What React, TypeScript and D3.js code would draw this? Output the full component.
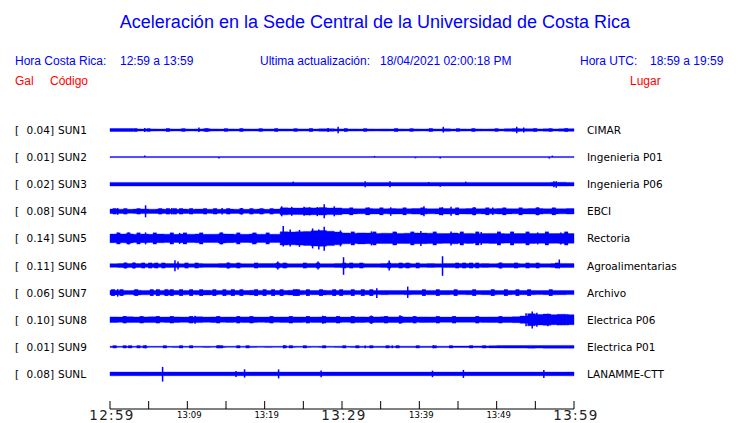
import React from "react";
import * as d3 from "d3";

const titleText = "Aceleración en la Sede Central de la Universidad de Costa Rica";
const localRange = "12:59 a 13:59";
const utcRange = "18:59 a 19:59";
const lastUpdate = "18/04/2021 02:00:18 PM";

const stations = ["SUN1", "SUN2", "SUN3", "SUN4", "SUN5", "SUN6", "SUN7", "SUN8", "SUN9", "SUNL"];
const galValues = ["0.04", "0.01", "0.02", "0.08", "0.14", "0.11", "0.06", "0.10", "0.01", "0.08"];
const places = ["CIMAR", "Ingenieria P01", "Ingenieria P06", "EBCI", "Rectoria", "Agroalimentarias", "Archivo", "Electrica P06", "Electrica P01", "LANAMME-CTT"];

// minute ticks (0 = 12:59, 60 = 13:59)
const tickMinutes = [0, 5, 10, 15, 20, 25, 30, 35, 40, 45, 50, 55, 60];
const majorLabels = [[0, "12:59"], [30, "13:29"], [60, "13:59"]];
const minorLabels = [[10, "13:09"], [20, "13:19"], [40, "13:39"], [50, "13:49"]];

// per-minute envelope half-amplitudes (relative units)
const envSUN1 = [1.5,1.5,1.5,1.1,1.0,1.1,1.0,1.1,1.0,1.1,1.0,1.1,1.2,1.1,1.0,1.1,1.0,1.1,1.0,1.1,1.1,1.0,1.1,1.0,1.1,1.1,1.0,1.2,1.3,1.1,1.0,1.1,1.0,1.1,1.0,1.1,1.0,1.1,1.0,1.1,1.0,1.1,1.0,1.2,1.0,1.1,1.0,1.1,1.0,1.1,1.0,1.3,1.4,1.3,1.2,1.1,1.2,1.1,1.2,1.3];
const envSUN2 = [0.5,0.5,0.5,0.5,0.5,0.5,0.5,0.5,0.5,0.5,0.5,0.5,0.5,0.5,0.5,0.5,0.5,0.5,0.5,0.5,0.5,0.5,0.5,0.5,0.5,0.5,0.5,0.5,0.5,0.5,0.5,0.5,0.5,0.5,0.5,0.5,0.5,0.5,0.5,0.5,0.5,0.5,0.5,0.5,0.5,0.5,0.5,0.5,0.5,0.5,0.5,0.5,0.5,0.5,0.5,0.5,0.5,0.5,0.5,0.5];
const envSUN3 = [1.8,1.8,1.8,1.8,1.8,1.8,1.8,1.8,1.8,1.8,1.8,1.8,1.8,1.8,1.8,1.8,1.8,1.8,1.8,1.8,1.8,1.8,1.8,1.8,1.8,1.8,1.8,1.8,1.8,1.8,1.8,1.8,1.8,1.8,1.8,1.8,1.8,1.8,1.8,1.8,1.8,1.8,1.8,1.8,1.8,1.8,1.8,1.8,1.8,1.8,1.8,1.8,1.8,1.8,1.8,1.8,1.8,1.9,1.9,1.8];
const envSUN4 = [2.2,2.1,2.0,2.2,2.3,2.1,2.2,2.1,2.0,2.2,2.1,2.2,2.0,2.1,2.0,2.2,2.1,2.0,2.1,2.2,2.0,2.2,3.5,3.3,3.2,3.6,3.4,3.7,3.3,3.4,2.7,2.6,2.5,2.7,2.6,2.5,2.7,2.6,2.5,2.8,2.7,2.5,2.6,2.7,2.5,2.6,2.8,2.5,2.6,2.5,2.7,2.6,2.5,2.6,2.7,2.8,2.5,2.6,2.5,2.7];
const envSUN5 = [4.3,4.4,4.5,4.2,4.3,4.1,4.3,4.2,4.1,4.3,4.2,4.4,4.1,4.2,4.5,4.3,4.2,4.1,4.3,4.2,4.1,4.2,6.6,6.4,6.7,7.0,7.6,7.8,7.2,6.4,5.4,5.2,5.5,5.3,5.0,5.2,5.1,5.0,5.2,5.4,5.3,5.2,5.0,4.9,5.4,4.8,5.0,4.7,4.8,5.0,4.8,4.7,4.9,4.8,5.0,4.8,4.9,4.8,5.0,4.8];
const envSUN6 = [1.8,2.0,1.9,1.9,1.8,1.9,1.8,1.9,1.9,1.8,1.8,1.9,1.8,1.8,1.9,2.0,1.9,1.8,1.8,1.9,1.9,2.0,1.9,1.8,1.8,1.9,1.9,1.8,1.8,1.9,2.0,2.1,1.9,1.8,1.8,1.9,2.1,1.9,1.9,1.8,1.8,1.9,1.8,1.9,1.9,1.9,2.0,1.8,1.9,1.8,1.9,2.0,1.9,1.8,1.9,1.8,1.8,1.9,2.1,1.9];
const envSUN7 = [2.3,2.2,2.0,2.3,2.2,2.0,2.2,2.3,2.1,2.2,2.0,2.1,2.3,2.1,2.0,2.2,2.1,2.1,2.3,2.2,2.0,2.1,2.1,2.3,2.2,2.0,2.1,2.3,2.2,2.1,2.2,2.0,2.0,2.1,2.0,2.1,2.0,2.0,2.1,2.0,2.0,2.2,2.1,2.1,2.0,2.0,2.1,2.0,2.1,2.2,2.0,2.1,2.0,2.1,2.1,2.0,2.1,2.2,2.1,2.0];
const envSUN8 = [2.8,2.6,2.9,2.7,2.8,2.9,2.6,2.7,2.8,2.6,2.7,2.9,2.6,2.8,2.6,2.7,2.6,2.8,2.7,2.6,2.7,2.6,2.7,2.8,2.7,2.6,2.7,2.8,2.7,2.7,2.6,2.7,2.8,2.6,2.8,2.9,2.8,2.8,2.7,2.6,2.8,2.7,2.6,2.6,2.6,2.6,2.6,2.6,2.7,2.8,2.7,2.8,3.0,3.6,6.0,5.2,5.6,5.0,5.4,5.0];
const envSUN9 = [0.6,0.55,0.6,0.55,0.6,0.55,0.55,0.55,0.6,0.55,0.55,0.55,0.6,0.55,0.6,0.55,0.55,0.55,0.6,0.55,0.6,0.55,0.55,0.6,0.55,0.6,0.55,0.6,0.55,0.6,0.55,0.6,0.6,0.6,0.6,0.6,0.6,0.6,0.6,0.6,0.6,0.6,0.6,0.6,0.7,0.7,0.8,0.8,0.9,1.1,1.2,1.3,1.3,1.3,1.4,1.3,1.4,1.4,1.4,1.4];
const envSUNL = [1.9,1.8,1.8,1.8,1.9,1.8,1.8,1.8,1.8,1.8,1.8,1.8,1.8,1.8,1.8,1.8,1.8,1.8,1.8,1.8,1.8,1.8,1.8,1.8,1.8,1.8,1.8,1.8,1.8,1.8,1.8,1.8,1.8,1.8,1.8,1.8,1.8,1.8,1.8,1.8,1.8,1.8,1.8,1.8,1.8,1.8,1.8,1.8,1.8,1.8,1.8,1.8,1.8,1.8,1.8,1.8,1.8,1.8,1.8,1.9];

// spikes: [minute, upward amplitude, downward amplitude]
const spkSUN1 = [[4.5,2,2],[11.5,2.5,2],[28.2,2,2],[29.5,3.3,3.3],[43.1,3.2,2.5],[52.6,3.3,3.3],[53.5,2.5,2.5]];
const spkSUN2 = [[4.5,1.5,0],[14.1,0,1.5],[34.2,1.2,0],[39.5,0,1.2],[42.7,0,1.5],[56.8,0,1.5],[57.2,1.5,0]];
const spkSUN3 = [[23.7,2.6,0],[33.0,3,3],[36.2,3,3],[41.2,2.2,0],[42.7,0,2.5],[46.0,2.6,0],[57.4,3,3],[57.7,3,3.6]];
const spkSUN4 = [[1.0,3.2,3.5],[4.6,6,6],[8.0,3.2,3.3],[14.5,3.4,3.2],[17.0,3.3,3.3],[22.2,5,5],[23.5,4.5,4.5],[25.1,4.5,4.5],[25.8,4,4],[26.8,4.2,4.8],[27.7,7,7],[29.0,5,5],[33.5,3.8,3.8],[36.3,4,4.5],[40.6,5,5],[43.0,4,4],[44.1,4.5,4.5],[47.1,4,4],[49.5,3.8,3.8],[55.3,4,4]];
const spkSUN5 = [[1.0,5.8,5.5],[2.4,6,6],[4.6,6,6],[9.0,5.5,5.5],[14.4,6,6],[18.5,5.5,5.8],[22.4,12.3,8],[23.3,9,8],[24.5,8.5,8.5],[26.2,10,10],[27.0,9,11],[27.7,11.7,12.3],[29.8,8,8],[33.8,7,7],[37.0,6.5,6.5],[40.2,7.5,7.5],[44.1,7,7],[48.0,6.5,6.5],[55.3,6,6],[58.3,6,6]];
const spkSUN6 = [[2.0,3,3],[3.1,3,3],[8.4,5.3,5.7],[8.8,4,4],[15.3,3,3],[21.7,4,4],[26.9,4,4],[30.2,8.3,9.3],[36.1,5,5],[43.0,9.3,10.3],[50.5,3,3],[58.1,6,3]];
const spkSUN7 = [[1.0,3.5,4],[34.5,4.3,5.5],[38.5,6,5.3]];
const spkSUN8 = [[11.0,4,4],[27.5,4,4],[33.8,4.2,4.2],[37.5,4.5,4],[53.8,6.5,6.5],[54.6,8.3,8.7],[55.2,7,7],[56.6,6,6.5],[57.9,5.5,5.5],[59.2,5.5,5.5]];
const spkSUN9 = [[4.6,1.5,1.5],[14.0,1.3,1.3],[22.5,1.5,1.5],[33.0,1.4,1.4],[36.5,1.4,1.4],[41.8,1.5,1.5]];
const spkSUNL = [[6.8,7,7.7],[16.3,3,3],[17.4,4.6,3.7],[21.8,4.5,4.5],[27.3,3.3,3.3],[41.7,3.3,3.3],[45.7,4,4],[56.1,4,4]];

// short noise bursts: [minute, half-amplitude]
const brsSUN1 = [[3.3,1.7],[5.0,1.6],[7.5,1.7],[9.5,1.6],[12.5,1.7],[15.0,1.6],[17.0,1.7],[19.5,1.6],[21.5,1.7],[24.0,1.6],[26.0,1.7],[30.5,1.7],[33.0,1.6],[37.0,1.7],[39.0,1.6],[41.5,1.7],[45.0,1.6],[47.0,1.7],[50.0,1.6],[55.0,1.7],[57.0,1.6],[59.0,1.7]];
const brsSUN2 = [];
const brsSUN3 = [];
const brsSUN4 = [[0.6,3],[2.0,3],[3.7,3],[6.5,3],[7.5,3],[8.4,3],[9.2,3],[10.5,3],[12.3,3],[13.6,3],[15.3,3],[17.0,3],[18.3,3],[19.6,3],[20.9,3],[31.2,3.8],[33.3,3.8],[35.1,3.8],[38.1,3.8],[40.4,3.8],[42.8,3.8],[44.9,3.8],[47.1,3.8],[48.8,3.8],[51.0,3.8],[53.1,3.8],[55.3,3.8],[57.4,3.8]];
const brsSUN5 = [[1.1,5.8],[2.4,5.8],[3.7,5.8],[5.8,5.8],[8.0,5.8],[9.7,5.8],[11.8,5.8],[14.4,5.8],[16.6,5.8],[18.7,5.8],[20.4,5.8],[31.4,6.8],[34.2,6.8],[36.8,6.8],[39.1,6.8],[42.0,6.8],[45.5,6.8],[47.5,6.8],[50.3,6.8],[52.0,6.8],[54.0,6.8],[56.5,6.8],[59.0,6.8]];
const brsSUN6 = [[2.0,2.8],[3.1,2.8],[4.3,2.8],[5.2,2.8],[6.0,2.8],[6.9,2.8],[9.9,2.8],[11.2,2.8],[15.3,2.8],[16.6,2.8],[18.9,2.8],[21.7,2.8],[22.6,2.8],[25.2,2.8],[26.9,2.8],[30.3,2.8],[31.2,2.8],[32.5,2.8],[36.1,2.8],[37.6,2.8],[38.5,2.8],[39.8,2.8],[44.9,2.8],[45.8,2.8],[46.7,2.8],[47.5,2.8],[50.5,2.8],[52.5,2.8],[54.0,2.8],[55.3,2.8],[57.8,2.8]];
const brsSUN7 = [[0.4,3.3],[1.5,3.3],[3.4,3.3],[5.4,3.3],[6.2,3.3],[7.3,3.3],[8.0,3.3],[9.2,3.3],[10.5,3.3],[11.8,3.3],[13.5,3.3],[14.8,3.3],[15.9,3.3],[17.0,3.3],[18.9,3.3],[20.0,3.3],[21.1,3.3],[22.2,3.3],[23.9,3.3],[24.3,3.3],[25.6,3.3],[27.3,3.3],[29.0,3.3],[29.9,3.3],[31.4,3.3],[32.7,3.3],[33.8,3.3],[40.6,3.3],[42.4,3.3],[44.7,3.3],[47.1,3.3],[49.5,3.3],[51.2,3.3],[52.7,3.3],[54.2,3.3],[57.0,3.3]];
const brsSUN8 = [[1.9,3.6],[4.1,3.6],[6.2,3.6],[8.0,3.6],[10.5,3.6],[14.0,3.6],[16.6,3.6],[18.3,3.6],[20.9,3.6],[23.4,3.6],[25.6,3.6],[27.7,3.6],[29.5,3.6],[31.4,3.6],[33.8,3.6],[35.7,3.6],[37.6,3.6],[39.4,3.6],[42.4,3.6],[44.5,3.6],[47.5,3.6],[50.5,3.6]];
const brsSUN9 = [[0.6,1.4],[1.9,1.4],[2.6,1.4],[3.7,1.4],[4.5,1.4],[7.1,1.4],[9.2,1.4],[10.5,1.4],[14.0,1.4],[14.4,1.4],[16.6,1.4],[17.8,1.4],[22.6,1.4],[23.4,1.4],[25.2,1.4],[27.7,1.4],[30.3,1.4],[32.0,1.4],[33.8,1.4],[35.9,1.4],[37.2,1.4],[39.8,1.4],[42.0,1.4],[44.1,1.4],[46.7,1.4],[48.4,1.4]];
const brsSUNL = [];

const envelopes = [envSUN1, envSUN2, envSUN3, envSUN4, envSUN5, envSUN6, envSUN7, envSUN8, envSUN9, envSUNL];
const spikes = [spkSUN1, spkSUN2, spkSUN3, spkSUN4, spkSUN5, spkSUN6, spkSUN7, spkSUN8, spkSUN9, spkSUNL];
const bursts = [brsSUN1, brsSUN2, brsSUN3, brsSUN4, brsSUN5, brsSUN6, brsSUN7, brsSUN8, brsSUN9, brsSUNL];

const W = 740;
const H = 423;
const BLUE = "#0000ff";
const RED = "#ff0000";
const SANS = "'Liberation Sans', Arial, sans-serif";
const DJV = "'DejaVu Sans', sans-serif";

export default function App() {
  const x = d3.scaleLinear().domain([0, 60]).range([110, 574]);
  const rowY = d3.scalePoint<string>().domain(stations).range([130, 373.9]);
  const amp = d3.scaleLinear().domain([0, 1]).range([0, 1]);

  const traces = stations.map((s, i) => {
    const env = envelopes[i];
    const pts = env.map((v, k) => [k, v] as [number, number]).concat([[60, env[env.length - 1]]]);
    const cy = rowY(s) as number;
    const area = d3
      .area<[number, number]>()
      .x((d) => x(d[0]))
      .y0((d) => cy + amp(d[1]))
      .y1((d) => cy - amp(d[1]))
      .curve(d3.curveStepAfter);
    return { s, cy, path: area(pts) || "", spikes: spikes[i], bursts: bursts[i] as number[][] };
  });

  const axisY = 409;

  return (
    <svg width={W} height={H} style={{ position: "absolute", left: 0, top: 0, background: "#fff" }}>
      <text x={375} y={28} fill={BLUE} fontFamily={SANS} fontSize={18} textAnchor="middle">
        {titleText}
      </text>
      <g fontFamily={SANS} fontSize={12} fill={BLUE}>
        <text x={15} y={65}>Hora Costa Rica:</text>
        <text x={120} y={65}>{localRange}</text>
        <text x={260} y={65}>Ultima actualización:  </text>
        <text x={380} y={65}>{lastUpdate}</text>
        <text x={580} y={65}>Hora UTC:</text>
        <text x={650} y={65}>{utcRange}</text>
      </g>
      <g fontFamily={SANS} fontSize={12} fill={RED}>
        <text x={15} y={85}>Gal</text>
        <text x={50} y={85}>Código</text>
        <text x={630} y={85}>Lugar</text>
      </g>
      {traces.map((t, i) => (
        <g key={t.s}>
          <text x={15} y={t.cy + 4} fontFamily={DJV} fontSize={10.5} fill="#000">[</text>
          <text x={54} y={t.cy + 4} fontFamily={DJV} fontSize={10.5} fill="#000" textAnchor="end">{galValues[i] + "]"}</text>
          <text x={58} y={t.cy + 4} fontFamily={DJV} fontSize={10.5} fill="#000">{t.s}</text>
          <text x={587} y={t.cy + 4} fontFamily={DJV} fontSize={10.5} fill="#000">{places[i]}</text>
          <path d={t.path} fill={BLUE} stroke={BLUE} strokeWidth={0.4} />
          {t.bursts.map((b, k) => (
            <rect
              key={"b" + k}
              x={x(b[0]) - 2}
              width={x(0.5) - x(0)}
              y={t.cy - amp(b[1])}
              height={amp(b[1]) * 2}
              fill={BLUE}
            />
          ))}
          {t.spikes.map((sp, k) => (
            <line
              key={k}
              x1={x(sp[0])}
              x2={x(sp[0])}
              y1={t.cy - amp(sp[1])}
              y2={t.cy + amp(sp[2])}
              stroke={BLUE}
              strokeWidth={1.5}
            />
          ))}
        </g>
      ))}
      <g>
        <line x1={x(0)} x2={x(60)} y1={axisY} y2={axisY} stroke="#000" strokeWidth={1} />
        {tickMinutes.map((m) => (
          <line key={m} x1={x(m)} x2={x(m)} y1={axisY} y2={axisY - 8} stroke="#000" strokeWidth={1} />
        ))}
        {majorLabels.map(([m, l]) => (
          <text key={l as string} x={x(m as number) + 2} y={420} fontFamily={DJV} fontSize={13.5} textAnchor="middle" letterSpacing={1.3} fill="#222">
            {l}
          </text>
        ))}
        {minorLabels.map(([m, l]) => (
          <text key={l as string} x={x(m as number) + 2} y={418} fontFamily={DJV} fontSize={8.5} textAnchor="middle">
            {l}
          </text>
        ))}
      </g>
    </svg>
  );
}
